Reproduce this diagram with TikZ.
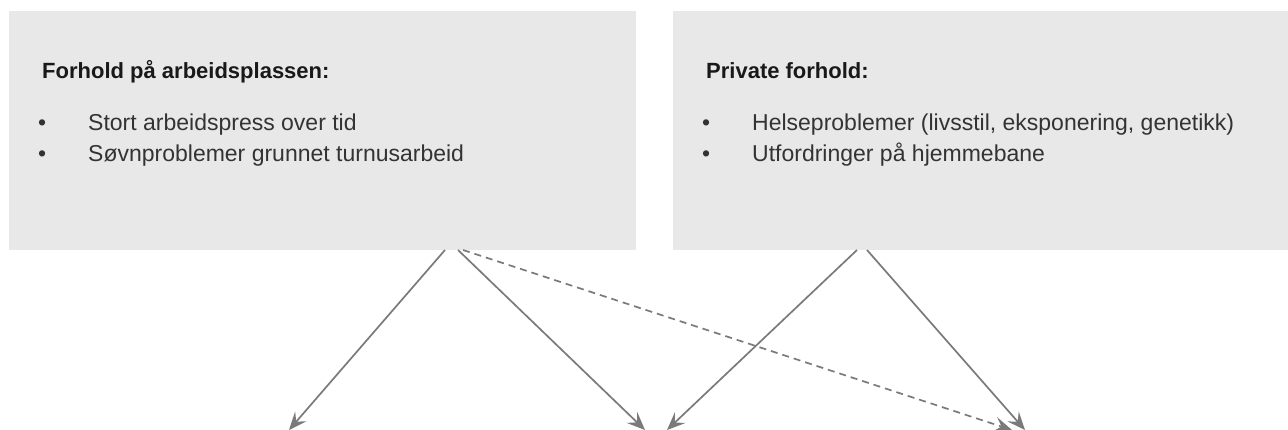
\documentclass[tikz,border=0pt]{standalone}
\usepackage{fontspec}
\setmainfont{Liberation Sans}
\usepackage{xcolor}
\usepackage{tikz}
\usetikzlibrary{arrows,arrows.meta,positioning}

\definecolor{panelgrey}{HTML}{E8E8E8}
\definecolor{linegrey}{HTML}{7A7A7A}
\definecolor{textdark}{HTML}{333333}

\begin{document}
\begin{tikzpicture}[
        x=1pt, y=-1pt,
        panel/.style={rectangle, fill=panelgrey, anchor=north west, inner sep=0pt, minimum height=239pt},
        head/.style={anchor=base west, inner sep=0pt, font=\fontsize{22}{26}\selectfont\bfseries, text=black!90},
        item/.style={anchor=base west, inner sep=0pt, font=\fontsize{23}{28}\selectfont, text=textdark},
        arrow/.style={-{Stealth[length=18pt,width=15pt,inset=7pt]}, line width=1.7pt, draw=linegrey},
        dasharrow/.style={arrow, dash pattern=on 7pt off 5pt}
    ]
        \useasboundingbox (0,0) rectangle (1288,430);

        % Work panel
        \node[panel, minimum width=627pt] (work) at (9,11) {};
        \node[head] (worktitle) at (42,79) {Forhold på arbeidsplassen:};
        \node[item] (workdot1) at (38,131) {•};
        \node[item] (work1) at (88,131) {Stort arbeidspress over tid};
        \node[item] (workdot2) at (38,162) {•};
        \node[item] (work2) at (88,162) {Søvnproblemer grunnet turnusarbeid};

        % Private panel
        \node[panel, minimum width=615pt] (private) at (673,11) {};
        \node[head] (privtitle) at (706,79) {Private forhold:};
        \node[item] (privdot1) at (702,131) {•};
        \node[item] (priv1) at (752,131) {Helseproblemer (livsstil, eksponering, genetikk)};
        \node[item] (privdot2) at (702,162) {•};
        \node[item] (priv2) at (752,162) {Utfordringer på hjemmebane};

        % Arrow ends
        \coordinate (workout1) at (445,250);
        \coordinate (workout2) at (458,250);
        \coordinate (workout3) at (463,250);
        \coordinate (privout1) at (857,250);
        \coordinate (privout2) at (867,250);
        \coordinate (end1) at (289,430);
        \coordinate (end2) at (645,430);
        \coordinate (end3) at (667,430);
        \coordinate (end4) at (1012,430);
        \coordinate (end5) at (1025,430);

        % Arrows
        \draw[arrow] (workout1) -- (end1);
        \draw[arrow] (workout2) -- (end2);
        \draw[dasharrow] (workout3) -- (end4);
        \draw[arrow] (privout1) -- (end3);
        \draw[arrow] (privout2) -- (end5);
    \end{tikzpicture}
\end{document}
